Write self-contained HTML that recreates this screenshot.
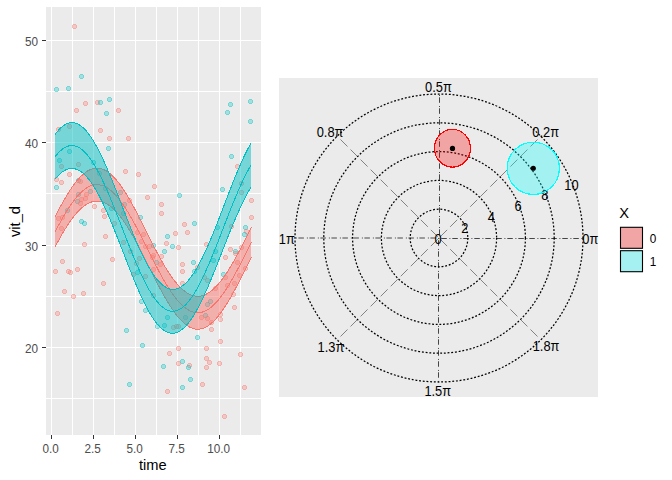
<!DOCTYPE html><html><head><meta charset="utf-8"><style>html,body{margin:0;padding:0;background:#fff;}svg{display:block;}text{font-family:"Liberation Sans",sans-serif;}</style></head><body>
<svg width="672" height="480" viewBox="0 0 672 480">
<rect width="672" height="480" fill="#fff"/>
<rect x="46" y="7" width="215" height="428" fill="#EBEBEB"/>
<rect x="51" y="7" width="1" height="428" fill="#fff"/>
<rect x="72" y="7" width="1" height="428" fill="#fff"/>
<rect x="93" y="7" width="1" height="428" fill="#fff"/>
<rect x="114" y="7" width="1" height="428" fill="#fff"/>
<rect x="135" y="7" width="1" height="428" fill="#fff"/>
<rect x="156" y="7" width="1" height="428" fill="#fff"/>
<rect x="177" y="7" width="1" height="428" fill="#fff"/>
<rect x="198" y="7" width="1" height="428" fill="#fff"/>
<rect x="219" y="7" width="1" height="428" fill="#fff"/>
<rect x="240" y="7" width="1" height="428" fill="#fff"/>
<rect x="46" y="40" width="215" height="1" fill="#fff"/>
<rect x="46" y="91" width="215" height="1" fill="#fff"/>
<rect x="46" y="142" width="215" height="1" fill="#fff"/>
<rect x="46" y="193" width="215" height="1" fill="#fff"/>
<rect x="46" y="245" width="215" height="1" fill="#fff"/>
<rect x="46" y="296" width="215" height="1" fill="#fff"/>
<rect x="46" y="347" width="215" height="1" fill="#fff"/>
<rect x="46" y="398" width="215" height="1" fill="#fff"/>
<g shape-rendering="crispEdges">
<path d="M73 24H76V25H77V28H76V29H73V28H72V25H73Z" fill="#F8766D" fill-opacity="0.3"/>
<path d="M73 24H76V25H77V28H76V29H73V28H72V25H73ZM73 25H76V28H73Z" fill="#F8766D" fill-opacity="0.3" fill-rule="evenodd"/>
<path d="M80 74H83V75H84V78H83V79H80V78H79V75H80Z" fill="#00BFC4" fill-opacity="0.3"/>
<path d="M80 74H83V75H84V78H83V79H80V78H79V75H80ZM80 75H83V78H80Z" fill="#00BFC4" fill-opacity="0.3" fill-rule="evenodd"/>
<path d="M55 87H58V88H59V91H58V92H55V91H54V88H55Z" fill="#00BFC4" fill-opacity="0.3"/>
<path d="M55 87H58V88H59V91H58V92H55V91H54V88H55ZM55 88H58V91H55Z" fill="#00BFC4" fill-opacity="0.3" fill-rule="evenodd"/>
<path d="M67 86H70V87H71V90H70V91H67V90H66V87H67Z" fill="#00BFC4" fill-opacity="0.3"/>
<path d="M67 86H70V87H71V90H70V91H67V90H66V87H67ZM67 87H70V90H67Z" fill="#00BFC4" fill-opacity="0.3" fill-rule="evenodd"/>
<path d="M84 101H87V102H88V105H87V106H84V105H83V102H84Z" fill="#F8766D" fill-opacity="0.3"/>
<path d="M84 101H87V102H88V105H87V106H84V105H83V102H84ZM84 102H87V105H84Z" fill="#F8766D" fill-opacity="0.3" fill-rule="evenodd"/>
<path d="M75 108H78V109H79V112H78V113H75V112H74V109H75Z" fill="#F8766D" fill-opacity="0.3"/>
<path d="M75 108H78V109H79V112H78V113H75V112H74V109H75ZM75 109H78V112H75Z" fill="#F8766D" fill-opacity="0.3" fill-rule="evenodd"/>
<path d="M96 100H99V101H100V104H99V105H96V104H95V101H96Z" fill="#F8766D" fill-opacity="0.3"/>
<path d="M96 100H99V101H100V104H99V105H96V104H95V101H96ZM96 101H99V104H96Z" fill="#F8766D" fill-opacity="0.3" fill-rule="evenodd"/>
<path d="M99 100H102V101H103V104H102V105H99V104H98V101H99Z" fill="#00BFC4" fill-opacity="0.3"/>
<path d="M99 100H102V101H103V104H102V105H99V104H98V101H99ZM99 101H102V104H99Z" fill="#00BFC4" fill-opacity="0.3" fill-rule="evenodd"/>
<path d="M108 97H111V98H112V101H111V102H108V101H107V98H108Z" fill="#00BFC4" fill-opacity="0.3"/>
<path d="M108 97H111V98H112V101H111V102H108V101H107V98H108ZM108 98H111V101H108Z" fill="#00BFC4" fill-opacity="0.3" fill-rule="evenodd"/>
<path d="M105 111H108V112H109V115H108V116H105V115H104V112H105Z" fill="#00BFC4" fill-opacity="0.3"/>
<path d="M105 111H108V112H109V115H108V116H105V115H104V112H105ZM105 112H108V115H105Z" fill="#00BFC4" fill-opacity="0.3" fill-rule="evenodd"/>
<path d="M117 108H120V109H121V112H120V113H117V112H116V109H117Z" fill="#F8766D" fill-opacity="0.3"/>
<path d="M117 108H120V109H121V112H120V113H117V112H116V109H117ZM117 109H120V112H117Z" fill="#F8766D" fill-opacity="0.3" fill-rule="evenodd"/>
<path d="M229 102H232V103H233V106H232V107H229V106H228V103H229Z" fill="#00BFC4" fill-opacity="0.3"/>
<path d="M229 102H232V103H233V106H232V107H229V106H228V103H229ZM229 103H232V106H229Z" fill="#00BFC4" fill-opacity="0.3" fill-rule="evenodd"/>
<path d="M226 110H229V111H230V114H229V115H226V114H225V111H226Z" fill="#00BFC4" fill-opacity="0.3"/>
<path d="M226 110H229V111H230V114H229V115H226V114H225V111H226ZM226 111H229V114H226Z" fill="#00BFC4" fill-opacity="0.3" fill-rule="evenodd"/>
<path d="M249 99H252V100H253V103H252V104H249V103H248V100H249Z" fill="#00BFC4" fill-opacity="0.3"/>
<path d="M249 99H252V100H253V103H252V104H249V103H248V100H249ZM249 100H252V103H249Z" fill="#00BFC4" fill-opacity="0.3" fill-rule="evenodd"/>
<path d="M249 119H252V120H253V123H252V124H249V123H248V120H249Z" fill="#00BFC4" fill-opacity="0.3"/>
<path d="M249 119H252V120H253V123H252V124H249V123H248V120H249ZM249 120H252V123H249Z" fill="#00BFC4" fill-opacity="0.3" fill-rule="evenodd"/>
<path d="M57 127H60V128H61V131H60V132H57V131H56V128H57Z" fill="#F8766D" fill-opacity="0.3"/>
<path d="M57 127H60V128H61V131H60V132H57V131H56V128H57ZM57 128H60V131H57Z" fill="#F8766D" fill-opacity="0.3" fill-rule="evenodd"/>
<path d="M68 124H71V125H72V128H71V129H68V128H67V125H68Z" fill="#F8766D" fill-opacity="0.3"/>
<path d="M68 124H71V125H72V128H71V129H68V128H67V125H68ZM68 125H71V128H68Z" fill="#F8766D" fill-opacity="0.3" fill-rule="evenodd"/>
<path d="M99 128H102V129H103V132H102V133H99V132H98V129H99Z" fill="#F8766D" fill-opacity="0.3"/>
<path d="M99 128H102V129H103V132H102V133H99V132H98V129H99ZM99 129H102V132H99Z" fill="#F8766D" fill-opacity="0.3" fill-rule="evenodd"/>
<path d="M68 149H71V150H72V153H71V154H68V153H67V150H68Z" fill="#00BFC4" fill-opacity="0.3"/>
<path d="M68 149H71V150H72V153H71V154H68V153H67V150H68ZM68 150H71V153H68Z" fill="#00BFC4" fill-opacity="0.3" fill-rule="evenodd"/>
<path d="M58 158H61V159H62V162H61V163H58V162H57V159H58Z" fill="#00BFC4" fill-opacity="0.3"/>
<path d="M58 158H61V159H62V162H61V163H58V162H57V159H58ZM58 159H61V162H58Z" fill="#00BFC4" fill-opacity="0.3" fill-rule="evenodd"/>
<path d="M60 164H63V165H64V168H63V169H60V168H59V165H60Z" fill="#F8766D" fill-opacity="0.3"/>
<path d="M60 164H63V165H64V168H63V169H60V168H59V165H60ZM60 165H63V168H60Z" fill="#F8766D" fill-opacity="0.3" fill-rule="evenodd"/>
<path d="M77 162H80V163H81V166H80V167H77V166H76V163H77Z" fill="#F8766D" fill-opacity="0.3"/>
<path d="M77 162H80V163H81V166H80V167H77V166H76V163H77ZM77 163H80V166H77Z" fill="#F8766D" fill-opacity="0.3" fill-rule="evenodd"/>
<path d="M92 160H95V161H96V164H95V165H92V164H91V161H92Z" fill="#00BFC4" fill-opacity="0.3"/>
<path d="M92 160H95V161H96V164H95V165H92V164H91V161H92ZM92 161H95V164H92Z" fill="#00BFC4" fill-opacity="0.3" fill-rule="evenodd"/>
<path d="M68 172H71V173H72V176H71V177H68V176H67V173H68Z" fill="#F8766D" fill-opacity="0.3"/>
<path d="M68 172H71V173H72V176H71V177H68V176H67V173H68ZM68 173H71V176H68Z" fill="#F8766D" fill-opacity="0.3" fill-rule="evenodd"/>
<path d="M98 171H101V172H102V175H101V176H98V175H97V172H98Z" fill="#00BFC4" fill-opacity="0.3"/>
<path d="M98 171H101V172H102V175H101V176H98V175H97V172H98ZM98 172H101V175H98Z" fill="#00BFC4" fill-opacity="0.3" fill-rule="evenodd"/>
<path d="M108 136H111V137H112V140H111V141H108V140H107V137H108Z" fill="#F8766D" fill-opacity="0.3"/>
<path d="M108 136H111V137H112V140H111V141H108V140H107V137H108ZM108 137H111V140H108Z" fill="#F8766D" fill-opacity="0.3" fill-rule="evenodd"/>
<path d="M127 136H130V137H131V140H130V141H127V140H126V137H127Z" fill="#F8766D" fill-opacity="0.3"/>
<path d="M127 136H130V137H131V140H130V141H127V140H126V137H127ZM127 137H130V140H127Z" fill="#F8766D" fill-opacity="0.3" fill-rule="evenodd"/>
<path d="M107 146H110V147H111V150H110V151H107V150H106V147H107Z" fill="#00BFC4" fill-opacity="0.3"/>
<path d="M107 146H110V147H111V150H110V151H107V150H106V147H107ZM107 147H110V150H107Z" fill="#00BFC4" fill-opacity="0.3" fill-rule="evenodd"/>
<path d="M124 169H127V170H128V173H127V174H124V173H123V170H124Z" fill="#F8766D" fill-opacity="0.3"/>
<path d="M124 169H127V170H128V173H127V174H124V173H123V170H124ZM124 170H127V173H124Z" fill="#F8766D" fill-opacity="0.3" fill-rule="evenodd"/>
<path d="M55 177H58V178H59V181H58V182H55V181H54V178H55Z" fill="#F8766D" fill-opacity="0.3"/>
<path d="M55 177H58V178H59V181H58V182H55V181H54V178H55ZM55 178H58V181H55Z" fill="#F8766D" fill-opacity="0.3" fill-rule="evenodd"/>
<path d="M60 180H63V181H64V184H63V185H60V184H59V181H60Z" fill="#F8766D" fill-opacity="0.3"/>
<path d="M60 180H63V181H64V184H63V185H60V184H59V181H60ZM60 181H63V184H60Z" fill="#F8766D" fill-opacity="0.3" fill-rule="evenodd"/>
<path d="M55 185H58V186H59V189H58V190H55V189H54V186H55Z" fill="#00BFC4" fill-opacity="0.3"/>
<path d="M55 185H58V186H59V189H58V190H55V189H54V186H55ZM55 186H58V189H55Z" fill="#00BFC4" fill-opacity="0.3" fill-rule="evenodd"/>
<path d="M77 178H80V179H81V182H80V183H77V182H76V179H77Z" fill="#00BFC4" fill-opacity="0.3"/>
<path d="M77 178H80V179H81V182H80V183H77V182H76V179H77ZM77 179H80V182H77Z" fill="#00BFC4" fill-opacity="0.3" fill-rule="evenodd"/>
<path d="M79 179H82V180H83V183H82V184H79V183H78V180H79Z" fill="#F8766D" fill-opacity="0.3"/>
<path d="M79 179H82V180H83V183H82V184H79V183H78V180H79ZM79 180H82V183H79Z" fill="#F8766D" fill-opacity="0.3" fill-rule="evenodd"/>
<path d="M89 189H92V190H93V193H92V194H89V193H88V190H89Z" fill="#00BFC4" fill-opacity="0.3"/>
<path d="M89 189H92V190H93V193H92V194H89V193H88V190H89ZM89 190H92V193H89Z" fill="#00BFC4" fill-opacity="0.3" fill-rule="evenodd"/>
<path d="M77 192H80V193H81V196H80V197H77V196H76V193H77Z" fill="#00BFC4" fill-opacity="0.3"/>
<path d="M77 192H80V193H81V196H80V197H77V196H76V193H77ZM77 193H80V196H77Z" fill="#00BFC4" fill-opacity="0.3" fill-rule="evenodd"/>
<path d="M85 192H88V193H89V196H88V197H85V196H84V193H85Z" fill="#F8766D" fill-opacity="0.3"/>
<path d="M85 192H88V193H89V196H88V197H85V196H84V193H85ZM85 193H88V196H85Z" fill="#F8766D" fill-opacity="0.3" fill-rule="evenodd"/>
<path d="M84 196H87V197H88V200H87V201H84V200H83V197H84Z" fill="#F8766D" fill-opacity="0.3"/>
<path d="M84 196H87V197H88V200H87V201H84V200H83V197H84ZM84 197H87V200H84Z" fill="#F8766D" fill-opacity="0.3" fill-rule="evenodd"/>
<path d="M80 197H83V198H84V201H83V202H80V201H79V198H80Z" fill="#F8766D" fill-opacity="0.3"/>
<path d="M80 197H83V198H84V201H83V202H80V201H79V198H80ZM80 198H83V201H80Z" fill="#F8766D" fill-opacity="0.3" fill-rule="evenodd"/>
<path d="M76 199H79V200H80V203H79V204H76V203H75V200H76Z" fill="#00BFC4" fill-opacity="0.3"/>
<path d="M76 199H79V200H80V203H79V204H76V203H75V200H76ZM76 200H79V203H76Z" fill="#00BFC4" fill-opacity="0.3" fill-rule="evenodd"/>
<path d="M79 201H82V202H83V205H82V206H79V205H78V202H79Z" fill="#F8766D" fill-opacity="0.3"/>
<path d="M79 201H82V202H83V205H82V206H79V205H78V202H79ZM79 202H82V205H79Z" fill="#F8766D" fill-opacity="0.3" fill-rule="evenodd"/>
<path d="M93 204H96V205H97V208H96V209H93V208H92V205H93Z" fill="#F8766D" fill-opacity="0.3"/>
<path d="M93 204H96V205H97V208H96V209H93V208H92V205H93ZM93 205H96V208H93Z" fill="#F8766D" fill-opacity="0.3" fill-rule="evenodd"/>
<path d="M102 208H105V209H106V212H105V213H102V212H101V209H102Z" fill="#F8766D" fill-opacity="0.3"/>
<path d="M102 208H105V209H106V212H105V213H102V212H101V209H102ZM102 209H105V212H102Z" fill="#F8766D" fill-opacity="0.3" fill-rule="evenodd"/>
<path d="M103 214H106V215H107V218H106V219H103V218H102V215H103Z" fill="#F8766D" fill-opacity="0.3"/>
<path d="M103 214H106V215H107V218H106V219H103V218H102V215H103ZM103 215H106V218H103Z" fill="#F8766D" fill-opacity="0.3" fill-rule="evenodd"/>
<path d="M66 208H69V209H70V212H69V213H66V212H65V209H66Z" fill="#00BFC4" fill-opacity="0.3"/>
<path d="M66 208H69V209H70V212H69V213H66V212H65V209H66ZM66 209H69V212H66Z" fill="#00BFC4" fill-opacity="0.3" fill-rule="evenodd"/>
<path d="M137 172H140V173H141V176H140V177H137V176H136V173H137Z" fill="#F8766D" fill-opacity="0.3"/>
<path d="M137 172H140V173H141V176H140V177H137V176H136V173H137ZM137 173H140V176H137Z" fill="#F8766D" fill-opacity="0.3" fill-rule="evenodd"/>
<path d="M153 184H156V185H157V188H156V189H153V188H152V185H153Z" fill="#F8766D" fill-opacity="0.3"/>
<path d="M153 184H156V185H157V188H156V189H153V188H152V185H153ZM153 185H156V188H153Z" fill="#F8766D" fill-opacity="0.3" fill-rule="evenodd"/>
<path d="M119 190H122V191H123V194H122V195H119V194H118V191H119Z" fill="#00BFC4" fill-opacity="0.3"/>
<path d="M119 190H122V191H123V194H122V195H119V194H118V191H119ZM119 191H122V194H119Z" fill="#00BFC4" fill-opacity="0.3" fill-rule="evenodd"/>
<path d="M146 195H149V196H150V199H149V200H146V199H145V196H146Z" fill="#F8766D" fill-opacity="0.3"/>
<path d="M146 195H149V196H150V199H149V200H146V199H145V196H146ZM146 196H149V199H146Z" fill="#F8766D" fill-opacity="0.3" fill-rule="evenodd"/>
<path d="M128 198H131V199H132V202H131V203H128V202H127V199H128Z" fill="#F8766D" fill-opacity="0.3"/>
<path d="M128 198H131V199H132V202H131V203H128V202H127V199H128ZM128 199H131V202H128Z" fill="#F8766D" fill-opacity="0.3" fill-rule="evenodd"/>
<path d="M123 202H126V203H127V206H126V207H123V206H122V203H123Z" fill="#00BFC4" fill-opacity="0.3"/>
<path d="M123 202H126V203H127V206H126V207H123V206H122V203H123ZM123 203H126V206H123Z" fill="#00BFC4" fill-opacity="0.3" fill-rule="evenodd"/>
<path d="M104 186H107V187H108V190H107V191H104V190H103V187H104Z" fill="#00BFC4" fill-opacity="0.3"/>
<path d="M104 186H107V187H108V190H107V191H104V190H103V187H104ZM104 187H107V190H104Z" fill="#00BFC4" fill-opacity="0.3" fill-rule="evenodd"/>
<path d="M110 206H113V207H114V210H113V211H110V210H109V207H110Z" fill="#00BFC4" fill-opacity="0.3"/>
<path d="M110 206H113V207H114V210H113V211H110V210H109V207H110ZM110 207H113V210H110Z" fill="#00BFC4" fill-opacity="0.3" fill-rule="evenodd"/>
<path d="M122 211H125V212H126V215H125V216H122V215H121V212H122Z" fill="#00BFC4" fill-opacity="0.3"/>
<path d="M122 211H125V212H126V215H125V216H122V215H121V212H122ZM122 212H125V215H122Z" fill="#00BFC4" fill-opacity="0.3" fill-rule="evenodd"/>
<path d="M139 215H142V216H143V219H142V220H139V219H138V216H139Z" fill="#00BFC4" fill-opacity="0.3"/>
<path d="M139 215H142V216H143V219H142V220H139V219H138V216H139ZM139 216H142V219H139Z" fill="#00BFC4" fill-opacity="0.3" fill-rule="evenodd"/>
<path d="M178 193H181V194H182V197H181V198H178V197H177V194H178Z" fill="#00BFC4" fill-opacity="0.3"/>
<path d="M178 193H181V194H182V197H181V198H178V197H177V194H178ZM178 194H181V197H178Z" fill="#00BFC4" fill-opacity="0.3" fill-rule="evenodd"/>
<path d="M160 202H163V203H164V206H163V207H160V206H159V203H160Z" fill="#F8766D" fill-opacity="0.3"/>
<path d="M160 202H163V203H164V206H163V207H160V206H159V203H160ZM160 203H163V206H160Z" fill="#F8766D" fill-opacity="0.3" fill-rule="evenodd"/>
<path d="M160 211H163V212H164V215H163V216H160V215H159V212H160Z" fill="#F8766D" fill-opacity="0.3"/>
<path d="M160 211H163V212H164V215H163V216H160V215H159V212H160ZM160 212H163V215H160Z" fill="#F8766D" fill-opacity="0.3" fill-rule="evenodd"/>
<path d="M230 154H233V155H234V158H233V159H230V158H229V155H230Z" fill="#00BFC4" fill-opacity="0.3"/>
<path d="M230 154H233V155H234V158H233V159H230V158H229V155H230ZM230 155H233V158H230Z" fill="#00BFC4" fill-opacity="0.3" fill-rule="evenodd"/>
<path d="M236 164H239V165H240V168H239V169H236V168H235V165H236Z" fill="#F8766D" fill-opacity="0.3"/>
<path d="M236 164H239V165H240V168H239V169H236V168H235V165H236ZM236 165H239V168H236Z" fill="#F8766D" fill-opacity="0.3" fill-rule="evenodd"/>
<path d="M221 187H224V188H225V191H224V192H221V191H220V188H221Z" fill="#00BFC4" fill-opacity="0.3"/>
<path d="M221 187H224V188H225V191H224V192H221V191H220V188H221ZM221 188H224V191H221Z" fill="#00BFC4" fill-opacity="0.3" fill-rule="evenodd"/>
<path d="M240 181H243V182H244V185H243V186H240V185H239V182H240Z" fill="#F8766D" fill-opacity="0.3"/>
<path d="M240 181H243V182H244V185H243V186H240V185H239V182H240ZM240 182H243V185H240Z" fill="#F8766D" fill-opacity="0.3" fill-rule="evenodd"/>
<path d="M240 190H243V191H244V194H243V195H240V194H239V191H240Z" fill="#F8766D" fill-opacity="0.3"/>
<path d="M240 190H243V191H244V194H243V195H240V194H239V191H240ZM240 191H243V194H240Z" fill="#F8766D" fill-opacity="0.3" fill-rule="evenodd"/>
<path d="M250 198H253V199H254V202H253V203H250V202H249V199H250Z" fill="#F8766D" fill-opacity="0.3"/>
<path d="M250 198H253V199H254V202H253V203H250V202H249V199H250ZM250 199H253V202H250Z" fill="#F8766D" fill-opacity="0.3" fill-rule="evenodd"/>
<path d="M250 215H253V216H254V219H253V220H250V219H249V216H250Z" fill="#F8766D" fill-opacity="0.3"/>
<path d="M250 215H253V216H254V219H253V220H250V219H249V216H250ZM250 216H253V219H250Z" fill="#F8766D" fill-opacity="0.3" fill-rule="evenodd"/>
<path d="M57 216H60V217H61V220H60V221H57V220H56V217H57Z" fill="#F8766D" fill-opacity="0.3"/>
<path d="M57 216H60V217H61V220H60V221H57V220H56V217H57ZM57 217H60V220H57Z" fill="#F8766D" fill-opacity="0.3" fill-rule="evenodd"/>
<path d="M61 215H64V216H65V219H64V220H61V219H60V216H61Z" fill="#F8766D" fill-opacity="0.3"/>
<path d="M61 215H64V216H65V219H64V220H61V219H60V216H61ZM61 216H64V219H61Z" fill="#F8766D" fill-opacity="0.3" fill-rule="evenodd"/>
<path d="M60 226H63V227H64V230H63V231H60V230H59V227H60Z" fill="#F8766D" fill-opacity="0.3"/>
<path d="M60 226H63V227H64V230H63V231H60V230H59V227H60ZM60 227H63V230H60Z" fill="#F8766D" fill-opacity="0.3" fill-rule="evenodd"/>
<path d="M80 219H83V220H84V223H83V224H80V223H79V220H80Z" fill="#00BFC4" fill-opacity="0.3"/>
<path d="M80 219H83V220H84V223H83V224H80V223H79V220H80ZM80 220H83V223H80Z" fill="#00BFC4" fill-opacity="0.3" fill-rule="evenodd"/>
<path d="M83 221H86V222H87V225H86V226H83V225H82V222H83Z" fill="#00BFC4" fill-opacity="0.3"/>
<path d="M83 221H86V222H87V225H86V226H83V225H82V222H83ZM83 222H86V225H83Z" fill="#00BFC4" fill-opacity="0.3" fill-rule="evenodd"/>
<path d="M83 242H86V243H87V246H86V247H83V246H82V243H83Z" fill="#F8766D" fill-opacity="0.3"/>
<path d="M83 242H86V243H87V246H86V247H83V246H82V243H83ZM83 243H86V246H83Z" fill="#F8766D" fill-opacity="0.3" fill-rule="evenodd"/>
<path d="M61 259H64V260H65V263H64V264H61V263H60V260H61Z" fill="#F8766D" fill-opacity="0.3"/>
<path d="M61 259H64V260H65V263H64V264H61V263H60V260H61ZM61 260H64V263H61Z" fill="#F8766D" fill-opacity="0.3" fill-rule="evenodd"/>
<path d="M104 234H107V235H108V238H107V239H104V238H103V235H104Z" fill="#F8766D" fill-opacity="0.3"/>
<path d="M104 234H107V235H108V238H107V239H104V238H103V235H104ZM104 235H107V238H104Z" fill="#F8766D" fill-opacity="0.3" fill-rule="evenodd"/>
<path d="M111 257H114V258H115V261H114V262H111V261H110V258H111Z" fill="#F8766D" fill-opacity="0.3"/>
<path d="M111 257H114V258H115V261H114V262H111V261H110V258H111ZM111 258H114V261H111Z" fill="#F8766D" fill-opacity="0.3" fill-rule="evenodd"/>
<path d="M113 221H116V222H117V225H116V226H113V225H112V222H113Z" fill="#F8766D" fill-opacity="0.3"/>
<path d="M113 221H116V222H117V225H116V226H113V225H112V222H113ZM113 222H116V225H113Z" fill="#F8766D" fill-opacity="0.3" fill-rule="evenodd"/>
<path d="M122 240H125V241H126V244H125V245H122V244H121V241H122Z" fill="#F8766D" fill-opacity="0.3"/>
<path d="M122 240H125V241H126V244H125V245H122V244H121V241H122ZM122 241H125V244H122Z" fill="#F8766D" fill-opacity="0.3" fill-rule="evenodd"/>
<path d="M129 249H132V250H133V253H132V254H129V253H128V250H129Z" fill="#F8766D" fill-opacity="0.3"/>
<path d="M129 249H132V250H133V253H132V254H129V253H128V250H129ZM129 250H132V253H129Z" fill="#F8766D" fill-opacity="0.3" fill-rule="evenodd"/>
<path d="M138 256H141V257H142V260H141V261H138V260H137V257H138Z" fill="#F8766D" fill-opacity="0.3"/>
<path d="M138 256H141V257H142V260H141V261H138V260H137V257H138ZM138 257H141V260H138Z" fill="#F8766D" fill-opacity="0.3" fill-rule="evenodd"/>
<path d="M135 261H138V262H139V265H138V266H135V265H134V262H135Z" fill="#F8766D" fill-opacity="0.3"/>
<path d="M135 261H138V262H139V265H138V266H135V265H134V262H135ZM135 262H138V265H135Z" fill="#F8766D" fill-opacity="0.3" fill-rule="evenodd"/>
<path d="M136 230H139V231H140V234H139V235H136V234H135V231H136Z" fill="#F8766D" fill-opacity="0.3"/>
<path d="M136 230H139V231H140V234H139V235H136V234H135V231H136ZM136 231H139V234H136Z" fill="#F8766D" fill-opacity="0.3" fill-rule="evenodd"/>
<path d="M142 232H145V233H146V236H145V237H142V236H141V233H142Z" fill="#F8766D" fill-opacity="0.3"/>
<path d="M142 232H145V233H146V236H145V237H142V236H141V233H142ZM142 233H145V236H142Z" fill="#F8766D" fill-opacity="0.3" fill-rule="evenodd"/>
<path d="M140 239H143V240H144V243H143V244H140V243H139V240H140Z" fill="#F8766D" fill-opacity="0.3"/>
<path d="M140 239H143V240H144V243H143V244H140V243H139V240H140ZM140 240H143V243H140Z" fill="#F8766D" fill-opacity="0.3" fill-rule="evenodd"/>
<path d="M144 244H147V245H148V248H147V249H144V248H143V245H144Z" fill="#F8766D" fill-opacity="0.3"/>
<path d="M144 244H147V245H148V248H147V249H144V248H143V245H144ZM144 245H147V248H144Z" fill="#F8766D" fill-opacity="0.3" fill-rule="evenodd"/>
<path d="M148 244H151V245H152V248H151V249H148V248H147V245H148Z" fill="#F8766D" fill-opacity="0.3"/>
<path d="M148 244H151V245H152V248H151V249H148V248H147V245H148ZM148 245H151V248H148Z" fill="#F8766D" fill-opacity="0.3" fill-rule="evenodd"/>
<path d="M152 243H155V244H156V247H155V248H152V247H151V244H152Z" fill="#00BFC4" fill-opacity="0.3"/>
<path d="M152 243H155V244H156V247H155V248H152V247H151V244H152ZM152 244H155V247H152Z" fill="#00BFC4" fill-opacity="0.3" fill-rule="evenodd"/>
<path d="M152 253H155V254H156V257H155V258H152V257H151V254H152Z" fill="#F8766D" fill-opacity="0.3"/>
<path d="M152 253H155V254H156V257H155V258H152V257H151V254H152ZM152 254H155V257H152Z" fill="#F8766D" fill-opacity="0.3" fill-rule="evenodd"/>
<path d="M151 255H154V256H155V259H154V260H151V259H150V256H151Z" fill="#F8766D" fill-opacity="0.3"/>
<path d="M151 255H154V256H155V259H154V260H151V259H150V256H151ZM151 256H154V259H151Z" fill="#F8766D" fill-opacity="0.3" fill-rule="evenodd"/>
<path d="M160 254H163V255H164V258H163V259H160V258H159V255H160Z" fill="#F8766D" fill-opacity="0.3"/>
<path d="M160 254H163V255H164V258H163V259H160V258H159V255H160ZM160 255H163V258H160Z" fill="#F8766D" fill-opacity="0.3" fill-rule="evenodd"/>
<path d="M155 260H158V261H159V264H158V265H155V264H154V261H155Z" fill="#00BFC4" fill-opacity="0.3"/>
<path d="M155 260H158V261H159V264H158V265H155V264H154V261H155ZM155 261H158V264H155Z" fill="#00BFC4" fill-opacity="0.3" fill-rule="evenodd"/>
<path d="M183 222H186V223H187V226H186V227H183V226H182V223H183Z" fill="#F8766D" fill-opacity="0.3"/>
<path d="M183 222H186V223H187V226H186V227H183V226H182V223H183ZM183 223H186V226H183Z" fill="#F8766D" fill-opacity="0.3" fill-rule="evenodd"/>
<path d="M193 221H196V222H197V225H196V226H193V225H192V222H193Z" fill="#00BFC4" fill-opacity="0.3"/>
<path d="M193 221H196V222H197V225H196V226H193V225H192V222H193ZM193 222H196V225H193Z" fill="#00BFC4" fill-opacity="0.3" fill-rule="evenodd"/>
<path d="M186 230H189V231H190V234H189V235H186V234H185V231H186Z" fill="#F8766D" fill-opacity="0.3"/>
<path d="M186 230H189V231H190V234H189V235H186V234H185V231H186ZM186 231H189V234H186Z" fill="#F8766D" fill-opacity="0.3" fill-rule="evenodd"/>
<path d="M174 231H177V232H178V235H177V236H174V235H173V232H174Z" fill="#F8766D" fill-opacity="0.3"/>
<path d="M174 231H177V232H178V235H177V236H174V235H173V232H174ZM174 232H177V235H174Z" fill="#F8766D" fill-opacity="0.3" fill-rule="evenodd"/>
<path d="M166 234H169V235H170V238H169V239H166V238H165V235H166Z" fill="#00BFC4" fill-opacity="0.3"/>
<path d="M166 234H169V235H170V238H169V239H166V238H165V235H166ZM166 235H169V238H166Z" fill="#00BFC4" fill-opacity="0.3" fill-rule="evenodd"/>
<path d="M165 241H168V242H169V245H168V246H165V245H164V242H165Z" fill="#F8766D" fill-opacity="0.3"/>
<path d="M165 241H168V242H169V245H168V246H165V245H164V242H165ZM165 242H168V245H165Z" fill="#F8766D" fill-opacity="0.3" fill-rule="evenodd"/>
<path d="M171 244H174V245H175V248H174V249H171V248H170V245H171Z" fill="#00BFC4" fill-opacity="0.3"/>
<path d="M171 244H174V245H175V248H174V249H171V248H170V245H171ZM171 245H174V248H171Z" fill="#00BFC4" fill-opacity="0.3" fill-rule="evenodd"/>
<path d="M177 245H180V246H181V249H180V250H177V249H176V246H177Z" fill="#F8766D" fill-opacity="0.3"/>
<path d="M177 245H180V246H181V249H180V250H177V249H176V246H177ZM177 246H180V249H177Z" fill="#F8766D" fill-opacity="0.3" fill-rule="evenodd"/>
<path d="M163 249H166V250H167V253H166V254H163V253H162V250H163Z" fill="#00BFC4" fill-opacity="0.3"/>
<path d="M163 249H166V250H167V253H166V254H163V253H162V250H163ZM163 250H166V253H163Z" fill="#00BFC4" fill-opacity="0.3" fill-rule="evenodd"/>
<path d="M205 242H208V243H209V246H208V247H205V246H204V243H205Z" fill="#F8766D" fill-opacity="0.3"/>
<path d="M205 242H208V243H209V246H208V247H205V246H204V243H205ZM205 243H208V246H205Z" fill="#F8766D" fill-opacity="0.3" fill-rule="evenodd"/>
<path d="M216 225H219V226H220V229H219V230H216V229H215V226H216Z" fill="#00BFC4" fill-opacity="0.3"/>
<path d="M216 225H219V226H220V229H219V230H216V229H215V226H216ZM216 226H219V229H216Z" fill="#00BFC4" fill-opacity="0.3" fill-rule="evenodd"/>
<path d="M214 249H217V250H218V253H217V254H214V253H213V250H214Z" fill="#00BFC4" fill-opacity="0.3"/>
<path d="M214 249H217V250H218V253H217V254H214V253H213V250H214ZM214 250H217V253H214Z" fill="#00BFC4" fill-opacity="0.3" fill-rule="evenodd"/>
<path d="M212 258H215V259H216V262H215V263H212V262H211V259H212Z" fill="#00BFC4" fill-opacity="0.3"/>
<path d="M212 258H215V259H216V262H215V263H212V262H211V259H212ZM212 259H215V262H212Z" fill="#00BFC4" fill-opacity="0.3" fill-rule="evenodd"/>
<path d="M192 260H195V261H196V264H195V265H192V264H191V261H192Z" fill="#00BFC4" fill-opacity="0.3"/>
<path d="M192 260H195V261H196V264H195V265H192V264H191V261H192ZM192 261H195V264H192Z" fill="#00BFC4" fill-opacity="0.3" fill-rule="evenodd"/>
<path d="M181 262H184V263H185V266H184V267H181V266H180V263H181Z" fill="#F8766D" fill-opacity="0.3"/>
<path d="M181 262H184V263H185V266H184V267H181V266H180V263H181ZM181 263H184V266H181Z" fill="#F8766D" fill-opacity="0.3" fill-rule="evenodd"/>
<path d="M230 224H233V225H234V228H233V229H230V228H229V225H230Z" fill="#F8766D" fill-opacity="0.3"/>
<path d="M230 224H233V225H234V228H233V229H230V228H229V225H230ZM230 225H233V228H230Z" fill="#F8766D" fill-opacity="0.3" fill-rule="evenodd"/>
<path d="M244 225H247V226H248V229H247V230H244V229H243V226H244Z" fill="#00BFC4" fill-opacity="0.3"/>
<path d="M244 225H247V226H248V229H247V230H244V229H243V226H244ZM244 226H247V229H244Z" fill="#00BFC4" fill-opacity="0.3" fill-rule="evenodd"/>
<path d="M245 229H248V230H249V233H248V234H245V233H244V230H245Z" fill="#F8766D" fill-opacity="0.3"/>
<path d="M245 229H248V230H249V233H248V234H245V233H244V230H245ZM245 230H248V233H245Z" fill="#F8766D" fill-opacity="0.3" fill-rule="evenodd"/>
<path d="M243 232H246V233H247V236H246V237H243V236H242V233H243Z" fill="#00BFC4" fill-opacity="0.3"/>
<path d="M243 232H246V233H247V236H246V237H243V236H242V233H243ZM243 233H246V236H243Z" fill="#00BFC4" fill-opacity="0.3" fill-rule="evenodd"/>
<path d="M240 245H243V246H244V249H243V250H240V249H239V246H240Z" fill="#F8766D" fill-opacity="0.3"/>
<path d="M240 245H243V246H244V249H243V250H240V249H239V246H240ZM240 246H243V249H240Z" fill="#F8766D" fill-opacity="0.3" fill-rule="evenodd"/>
<path d="M229 247H232V248H233V251H232V252H229V251H228V248H229Z" fill="#F8766D" fill-opacity="0.3"/>
<path d="M229 247H232V248H233V251H232V252H229V251H228V248H229ZM229 248H232V251H229Z" fill="#F8766D" fill-opacity="0.3" fill-rule="evenodd"/>
<path d="M234 249H237V250H238V253H237V254H234V253H233V250H234Z" fill="#00BFC4" fill-opacity="0.3"/>
<path d="M234 249H237V250H238V253H237V254H234V253H233V250H234ZM234 250H237V253H234Z" fill="#00BFC4" fill-opacity="0.3" fill-rule="evenodd"/>
<path d="M234 251H237V252H238V255H237V256H234V255H233V252H234Z" fill="#F8766D" fill-opacity="0.3"/>
<path d="M234 251H237V252H238V255H237V256H234V255H233V252H234ZM234 252H237V255H234Z" fill="#F8766D" fill-opacity="0.3" fill-rule="evenodd"/>
<path d="M224 255H227V256H228V259H227V260H224V259H223V256H224Z" fill="#F8766D" fill-opacity="0.3"/>
<path d="M224 255H227V256H228V259H227V260H224V259H223V256H224ZM224 256H227V259H224Z" fill="#F8766D" fill-opacity="0.3" fill-rule="evenodd"/>
<path d="M236 260H239V261H240V264H239V265H236V264H235V261H236Z" fill="#F8766D" fill-opacity="0.3"/>
<path d="M236 260H239V261H240V264H239V265H236V264H235V261H236ZM236 261H239V264H236Z" fill="#F8766D" fill-opacity="0.3" fill-rule="evenodd"/>
<path d="M54 269H57V270H58V273H57V274H54V273H53V270H54Z" fill="#F8766D" fill-opacity="0.3"/>
<path d="M54 269H57V270H58V273H57V274H54V273H53V270H54ZM54 270H57V273H54Z" fill="#F8766D" fill-opacity="0.3" fill-rule="evenodd"/>
<path d="M67 269H70V270H71V273H70V274H67V273H66V270H67Z" fill="#F8766D" fill-opacity="0.3"/>
<path d="M67 269H70V270H71V273H70V274H67V273H66V270H67ZM67 270H70V273H67Z" fill="#F8766D" fill-opacity="0.3" fill-rule="evenodd"/>
<path d="M69 270H72V271H73V274H72V275H69V274H68V271H69Z" fill="#F8766D" fill-opacity="0.3"/>
<path d="M69 270H72V271H73V274H72V275H69V274H68V271H69ZM69 271H72V274H69Z" fill="#F8766D" fill-opacity="0.3" fill-rule="evenodd"/>
<path d="M76 267H79V268H80V271H79V272H76V271H75V268H76Z" fill="#F8766D" fill-opacity="0.3"/>
<path d="M76 267H79V268H80V271H79V272H76V271H75V268H76ZM76 268H79V271H76Z" fill="#F8766D" fill-opacity="0.3" fill-rule="evenodd"/>
<path d="M102 281H105V282H106V285H105V286H102V285H101V282H102Z" fill="#F8766D" fill-opacity="0.3"/>
<path d="M102 281H105V282H106V285H105V286H102V285H101V282H102ZM102 282H105V285H102Z" fill="#F8766D" fill-opacity="0.3" fill-rule="evenodd"/>
<path d="M63 289H66V290H67V293H66V294H63V293H62V290H63Z" fill="#F8766D" fill-opacity="0.3"/>
<path d="M63 289H66V290H67V293H66V294H63V293H62V290H63ZM63 290H66V293H63Z" fill="#F8766D" fill-opacity="0.3" fill-rule="evenodd"/>
<path d="M72 294H75V295H76V298H75V299H72V298H71V295H72Z" fill="#F8766D" fill-opacity="0.3"/>
<path d="M72 294H75V295H76V298H75V299H72V298H71V295H72ZM72 295H75V298H72Z" fill="#F8766D" fill-opacity="0.3" fill-rule="evenodd"/>
<path d="M82 291H85V292H86V295H85V296H82V295H81V292H82Z" fill="#F8766D" fill-opacity="0.3"/>
<path d="M82 291H85V292H86V295H85V296H82V295H81V292H82ZM82 292H85V295H82Z" fill="#F8766D" fill-opacity="0.3" fill-rule="evenodd"/>
<path d="M132 272H135V273H136V276H135V277H132V276H131V273H132Z" fill="#F8766D" fill-opacity="0.3"/>
<path d="M132 272H135V273H136V276H135V277H132V276H131V273H132ZM132 273H135V276H132Z" fill="#F8766D" fill-opacity="0.3" fill-rule="evenodd"/>
<path d="M136 270H139V271H140V274H139V275H136V274H135V271H136Z" fill="#00BFC4" fill-opacity="0.3"/>
<path d="M136 270H139V271H140V274H139V275H136V274H135V271H136ZM136 271H139V274H136Z" fill="#00BFC4" fill-opacity="0.3" fill-rule="evenodd"/>
<path d="M144 274H147V275H148V278H147V279H144V278H143V275H144Z" fill="#F8766D" fill-opacity="0.3"/>
<path d="M144 274H147V275H148V278H147V279H144V278H143V275H144ZM144 275H147V278H144Z" fill="#F8766D" fill-opacity="0.3" fill-rule="evenodd"/>
<path d="M152 293H155V294H156V297H155V298H152V297H151V294H152Z" fill="#F8766D" fill-opacity="0.3"/>
<path d="M152 293H155V294H156V297H155V298H152V297H151V294H152ZM152 294H155V297H152Z" fill="#F8766D" fill-opacity="0.3" fill-rule="evenodd"/>
<path d="M140 299H143V300H144V303H143V304H140V303H139V300H140Z" fill="#00BFC4" fill-opacity="0.3"/>
<path d="M140 299H143V300H144V303H143V304H140V303H139V300H140ZM140 300H143V303H140Z" fill="#00BFC4" fill-opacity="0.3" fill-rule="evenodd"/>
<path d="M152 267H155V268H156V271H155V272H152V271H151V268H152Z" fill="#F8766D" fill-opacity="0.3"/>
<path d="M152 267H155V268H156V271H155V272H152V271H151V268H152ZM152 268H155V271H152Z" fill="#F8766D" fill-opacity="0.3" fill-rule="evenodd"/>
<path d="M159 262H162V263H163V266H162V267H159V266H158V263H159Z" fill="#F8766D" fill-opacity="0.3"/>
<path d="M159 262H162V263H163V266H162V267H159V266H158V263H159ZM159 263H162V266H159Z" fill="#F8766D" fill-opacity="0.3" fill-rule="evenodd"/>
<path d="M181 269H184V270H185V273H184V274H181V273H180V270H181Z" fill="#F8766D" fill-opacity="0.3"/>
<path d="M181 269H184V270H185V273H184V274H181V273H180V270H181ZM181 270H184V273H181Z" fill="#F8766D" fill-opacity="0.3" fill-rule="evenodd"/>
<path d="M193 269H196V270H197V273H196V274H193V273H192V270H193Z" fill="#00BFC4" fill-opacity="0.3"/>
<path d="M193 269H196V270H197V273H196V274H193V273H192V270H193ZM193 270H196V273H193Z" fill="#00BFC4" fill-opacity="0.3" fill-rule="evenodd"/>
<path d="M196 265H199V266H200V269H199V270H196V269H195V266H196Z" fill="#F8766D" fill-opacity="0.3"/>
<path d="M196 265H199V266H200V269H199V270H196V269H195V266H196ZM196 266H199V269H196Z" fill="#F8766D" fill-opacity="0.3" fill-rule="evenodd"/>
<path d="M181 281H184V282H185V285H184V286H181V285H180V282H181Z" fill="#F8766D" fill-opacity="0.3"/>
<path d="M181 281H184V282H185V285H184V286H181V285H180V282H181ZM181 282H184V285H181Z" fill="#F8766D" fill-opacity="0.3" fill-rule="evenodd"/>
<path d="M203 275H206V276H207V279H206V280H203V279H202V276H203Z" fill="#F8766D" fill-opacity="0.3"/>
<path d="M203 275H206V276H207V279H206V280H203V279H202V276H203ZM203 276H206V279H203Z" fill="#F8766D" fill-opacity="0.3" fill-rule="evenodd"/>
<path d="M206 278H209V279H210V282H209V283H206V282H205V279H206Z" fill="#F8766D" fill-opacity="0.3"/>
<path d="M206 278H209V279H210V282H209V283H206V282H205V279H206ZM206 279H209V282H206Z" fill="#F8766D" fill-opacity="0.3" fill-rule="evenodd"/>
<path d="M222 272H225V273H226V276H225V277H222V276H221V273H222Z" fill="#00BFC4" fill-opacity="0.3"/>
<path d="M222 272H225V273H226V276H225V277H222V276H221V273H222ZM222 273H225V276H222Z" fill="#00BFC4" fill-opacity="0.3" fill-rule="evenodd"/>
<path d="M224 275H227V276H228V279H227V280H224V279H223V276H224Z" fill="#F8766D" fill-opacity="0.3"/>
<path d="M224 275H227V276H228V279H227V280H224V279H223V276H224ZM224 276H227V279H224Z" fill="#F8766D" fill-opacity="0.3" fill-rule="evenodd"/>
<path d="M214 286H217V287H218V290H217V291H214V290H213V287H214Z" fill="#F8766D" fill-opacity="0.3"/>
<path d="M214 286H217V287H218V290H217V291H214V290H213V287H214ZM214 287H217V290H214Z" fill="#F8766D" fill-opacity="0.3" fill-rule="evenodd"/>
<path d="M226 283H229V284H230V287H229V288H226V287H225V284H226Z" fill="#F8766D" fill-opacity="0.3"/>
<path d="M226 283H229V284H230V287H229V288H226V287H225V284H226ZM226 284H229V287H226Z" fill="#F8766D" fill-opacity="0.3" fill-rule="evenodd"/>
<path d="M233 281H236V282H237V285H236V286H233V285H232V282H233Z" fill="#F8766D" fill-opacity="0.3"/>
<path d="M233 281H236V282H237V285H236V286H233V285H232V282H233ZM233 282H236V285H233Z" fill="#F8766D" fill-opacity="0.3" fill-rule="evenodd"/>
<path d="M232 292H235V293H236V296H235V297H232V296H231V293H232Z" fill="#F8766D" fill-opacity="0.3"/>
<path d="M232 292H235V293H236V296H235V297H232V296H231V293H232ZM232 293H235V296H232Z" fill="#F8766D" fill-opacity="0.3" fill-rule="evenodd"/>
<path d="M244 266H247V267H248V270H247V271H244V270H243V267H244Z" fill="#F8766D" fill-opacity="0.3"/>
<path d="M244 266H247V267H248V270H247V271H244V270H243V267H244ZM244 267H247V270H244Z" fill="#F8766D" fill-opacity="0.3" fill-rule="evenodd"/>
<path d="M238 273H241V274H242V277H241V278H238V277H237V274H238Z" fill="#F8766D" fill-opacity="0.3"/>
<path d="M238 273H241V274H242V277H241V278H238V277H237V274H238ZM238 274H241V277H238Z" fill="#F8766D" fill-opacity="0.3" fill-rule="evenodd"/>
<path d="M56 311H59V312H60V315H59V316H56V315H55V312H56Z" fill="#F8766D" fill-opacity="0.3"/>
<path d="M56 311H59V312H60V315H59V316H56V315H55V312H56ZM56 312H59V315H56Z" fill="#F8766D" fill-opacity="0.3" fill-rule="evenodd"/>
<path d="M144 308H147V309H148V312H147V313H144V312H143V309H144Z" fill="#00BFC4" fill-opacity="0.3"/>
<path d="M144 308H147V309H148V312H147V313H144V312H143V309H144ZM144 309H147V312H144Z" fill="#00BFC4" fill-opacity="0.3" fill-rule="evenodd"/>
<path d="M156 324H159V325H160V328H159V329H156V328H155V325H156Z" fill="#00BFC4" fill-opacity="0.3"/>
<path d="M156 324H159V325H160V328H159V329H156V328H155V325H156ZM156 325H159V328H156Z" fill="#00BFC4" fill-opacity="0.3" fill-rule="evenodd"/>
<path d="M125 328H128V329H129V332H128V333H125V332H124V329H125Z" fill="#00BFC4" fill-opacity="0.3"/>
<path d="M125 328H128V329H129V332H128V333H125V332H124V329H125ZM125 329H128V332H125Z" fill="#00BFC4" fill-opacity="0.3" fill-rule="evenodd"/>
<path d="M166 315H169V316H170V319H169V320H166V319H165V316H166Z" fill="#00BFC4" fill-opacity="0.3"/>
<path d="M166 315H169V316H170V319H169V320H166V319H165V316H166ZM166 316H169V319H166Z" fill="#00BFC4" fill-opacity="0.3" fill-rule="evenodd"/>
<path d="M184 315H187V316H188V319H187V320H184V319H183V316H184Z" fill="#00BFC4" fill-opacity="0.3"/>
<path d="M184 315H187V316H188V319H187V320H184V319H183V316H184ZM184 316H187V319H184Z" fill="#00BFC4" fill-opacity="0.3" fill-rule="evenodd"/>
<path d="M163 323H166V324H167V327H166V328H163V327H162V324H163Z" fill="#00BFC4" fill-opacity="0.3"/>
<path d="M163 323H166V324H167V327H166V328H163V327H162V324H163ZM163 324H166V327H163Z" fill="#00BFC4" fill-opacity="0.3" fill-rule="evenodd"/>
<path d="M172 325H175V326H176V329H175V330H172V329H171V326H172Z" fill="#F8766D" fill-opacity="0.3"/>
<path d="M172 325H175V326H176V329H175V330H172V329H171V326H172ZM172 326H175V329H172Z" fill="#F8766D" fill-opacity="0.3" fill-rule="evenodd"/>
<path d="M175 324H178V325H179V328H178V329H175V328H174V325H175Z" fill="#F8766D" fill-opacity="0.3"/>
<path d="M175 324H178V325H179V328H178V329H175V328H174V325H175ZM175 325H178V328H175Z" fill="#F8766D" fill-opacity="0.3" fill-rule="evenodd"/>
<path d="M177 324H180V325H181V328H180V329H177V328H176V325H177Z" fill="#F8766D" fill-opacity="0.3"/>
<path d="M177 324H180V325H181V328H180V329H177V328H176V325H177ZM177 325H180V328H177Z" fill="#F8766D" fill-opacity="0.3" fill-rule="evenodd"/>
<path d="M209 299H212V300H213V303H212V304H209V303H208V300H209Z" fill="#00BFC4" fill-opacity="0.3"/>
<path d="M209 299H212V300H213V303H212V304H209V303H208V300H209ZM209 300H212V303H209Z" fill="#00BFC4" fill-opacity="0.3" fill-rule="evenodd"/>
<path d="M206 302H209V303H210V306H209V307H206V306H205V303H206Z" fill="#00BFC4" fill-opacity="0.3"/>
<path d="M206 302H209V303H210V306H209V307H206V306H205V303H206ZM206 303H209V306H206Z" fill="#00BFC4" fill-opacity="0.3" fill-rule="evenodd"/>
<path d="M204 313H207V314H208V317H207V318H204V317H203V314H204Z" fill="#00BFC4" fill-opacity="0.3"/>
<path d="M204 313H207V314H208V317H207V318H204V317H203V314H204ZM204 314H207V317H204Z" fill="#00BFC4" fill-opacity="0.3" fill-rule="evenodd"/>
<path d="M200 315H203V316H204V319H203V320H200V319H199V316H200Z" fill="#F8766D" fill-opacity="0.3"/>
<path d="M200 315H203V316H204V319H203V320H200V319H199V316H200ZM200 316H203V319H200Z" fill="#F8766D" fill-opacity="0.3" fill-rule="evenodd"/>
<path d="M206 316H209V317H210V320H209V321H206V320H205V317H206Z" fill="#F8766D" fill-opacity="0.3"/>
<path d="M206 316H209V317H210V320H209V321H206V320H205V317H206ZM206 317H209V320H206Z" fill="#F8766D" fill-opacity="0.3" fill-rule="evenodd"/>
<path d="M233 305H236V306H237V309H236V310H233V309H232V306H233Z" fill="#F8766D" fill-opacity="0.3"/>
<path d="M233 305H236V306H237V309H236V310H233V309H232V306H233ZM233 306H236V309H233Z" fill="#F8766D" fill-opacity="0.3" fill-rule="evenodd"/>
<path d="M219 312H222V313H223V316H222V317H219V316H218V313H219Z" fill="#F8766D" fill-opacity="0.3"/>
<path d="M219 312H222V313H223V316H222V317H219V316H218V313H219ZM219 313H222V316H219Z" fill="#F8766D" fill-opacity="0.3" fill-rule="evenodd"/>
<path d="M219 317H222V318H223V321H222V322H219V321H218V318H219Z" fill="#F8766D" fill-opacity="0.3"/>
<path d="M219 317H222V318H223V321H222V322H219V321H218V318H219ZM219 318H222V321H219Z" fill="#F8766D" fill-opacity="0.3" fill-rule="evenodd"/>
<path d="M210 320H213V321H214V324H213V325H210V324H209V321H210Z" fill="#F8766D" fill-opacity="0.3"/>
<path d="M210 320H213V321H214V324H213V325H210V324H209V321H210ZM210 321H213V324H210Z" fill="#F8766D" fill-opacity="0.3" fill-rule="evenodd"/>
<path d="M210 327H213V328H214V331H213V332H210V331H209V328H210Z" fill="#F8766D" fill-opacity="0.3"/>
<path d="M210 327H213V328H214V331H213V332H210V331H209V328H210ZM210 328H213V331H210Z" fill="#F8766D" fill-opacity="0.3" fill-rule="evenodd"/>
<path d="M141 343H144V344H145V347H144V348H141V347H140V344H141Z" fill="#00BFC4" fill-opacity="0.3"/>
<path d="M141 343H144V344H145V347H144V348H141V347H140V344H141ZM141 344H144V347H141Z" fill="#00BFC4" fill-opacity="0.3" fill-rule="evenodd"/>
<path d="M128 382H131V383H132V386H131V387H128V386H127V383H128Z" fill="#00BFC4" fill-opacity="0.3"/>
<path d="M128 382H131V383H132V386H131V387H128V386H127V383H128ZM128 383H131V386H128Z" fill="#00BFC4" fill-opacity="0.3" fill-rule="evenodd"/>
<path d="M196 335H199V336H200V339H199V340H196V339H195V336H196Z" fill="#00BFC4" fill-opacity="0.3"/>
<path d="M196 335H199V336H200V339H199V340H196V339H195V336H196ZM196 336H199V339H196Z" fill="#00BFC4" fill-opacity="0.3" fill-rule="evenodd"/>
<path d="M177 346H180V347H181V350H180V351H177V350H176V347H177Z" fill="#F8766D" fill-opacity="0.3"/>
<path d="M177 346H180V347H181V350H180V351H177V350H176V347H177ZM177 347H180V350H177Z" fill="#F8766D" fill-opacity="0.3" fill-rule="evenodd"/>
<path d="M168 351H171V352H172V355H171V356H168V355H167V352H168Z" fill="#F8766D" fill-opacity="0.3"/>
<path d="M168 351H171V352H172V355H171V356H168V355H167V352H168ZM168 352H171V355H168Z" fill="#F8766D" fill-opacity="0.3" fill-rule="evenodd"/>
<path d="M181 359H184V360H185V363H184V364H181V363H180V360H181Z" fill="#00BFC4" fill-opacity="0.3"/>
<path d="M181 359H184V360H185V363H184V364H181V363H180V360H181ZM181 360H184V363H181Z" fill="#00BFC4" fill-opacity="0.3" fill-rule="evenodd"/>
<path d="M177 361H180V362H181V365H180V366H177V365H176V362H177Z" fill="#F8766D" fill-opacity="0.3"/>
<path d="M177 361H180V362H181V365H180V366H177V365H176V362H177ZM177 362H180V365H177Z" fill="#F8766D" fill-opacity="0.3" fill-rule="evenodd"/>
<path d="M162 364H165V365H166V368H165V369H162V368H161V365H162Z" fill="#00BFC4" fill-opacity="0.3"/>
<path d="M162 364H165V365H166V368H165V369H162V368H161V365H162ZM162 365H165V368H162Z" fill="#00BFC4" fill-opacity="0.3" fill-rule="evenodd"/>
<path d="M188 363H191V364H192V367H191V368H188V367H187V364H188Z" fill="#F8766D" fill-opacity="0.3"/>
<path d="M188 363H191V364H192V367H191V368H188V367H187V364H188ZM188 364H191V367H188Z" fill="#F8766D" fill-opacity="0.3" fill-rule="evenodd"/>
<path d="M187 365H190V366H191V369H190V370H187V369H186V366H187Z" fill="#00BFC4" fill-opacity="0.3"/>
<path d="M187 365H190V366H191V369H190V370H187V369H186V366H187ZM187 366H190V369H187Z" fill="#00BFC4" fill-opacity="0.3" fill-rule="evenodd"/>
<path d="M205 346H208V347H209V350H208V351H205V350H204V347H205Z" fill="#F8766D" fill-opacity="0.3"/>
<path d="M205 346H208V347H209V350H208V351H205V350H204V347H205ZM205 347H208V350H205Z" fill="#F8766D" fill-opacity="0.3" fill-rule="evenodd"/>
<path d="M205 356H208V357H209V360H208V361H205V360H204V357H205Z" fill="#F8766D" fill-opacity="0.3"/>
<path d="M205 356H208V357H209V360H208V361H205V360H204V357H205ZM205 357H208V360H205Z" fill="#F8766D" fill-opacity="0.3" fill-rule="evenodd"/>
<path d="M208 360H211V361H212V364H211V365H208V364H207V361H208Z" fill="#F8766D" fill-opacity="0.3"/>
<path d="M208 360H211V361H212V364H211V365H208V364H207V361H208ZM208 361H211V364H208Z" fill="#F8766D" fill-opacity="0.3" fill-rule="evenodd"/>
<path d="M205 365H208V366H209V369H208V370H205V369H204V366H205Z" fill="#F8766D" fill-opacity="0.3"/>
<path d="M205 365H208V366H209V369H208V370H205V369H204V366H205ZM205 366H208V369H205Z" fill="#F8766D" fill-opacity="0.3" fill-rule="evenodd"/>
<path d="M219 339H222V340H223V343H222V344H219V343H218V340H219Z" fill="#F8766D" fill-opacity="0.3"/>
<path d="M219 339H222V340H223V343H222V344H219V343H218V340H219ZM219 340H222V343H219Z" fill="#F8766D" fill-opacity="0.3" fill-rule="evenodd"/>
<path d="M239 352H242V353H243V356H242V357H239V356H238V353H239Z" fill="#F8766D" fill-opacity="0.3"/>
<path d="M239 352H242V353H243V356H242V357H239V356H238V353H239ZM239 353H242V356H239Z" fill="#F8766D" fill-opacity="0.3" fill-rule="evenodd"/>
<path d="M218 361H221V362H222V365H221V366H218V365H217V362H218Z" fill="#F8766D" fill-opacity="0.3"/>
<path d="M218 361H221V362H222V365H221V366H218V365H217V362H218ZM218 362H221V365H218Z" fill="#F8766D" fill-opacity="0.3" fill-rule="evenodd"/>
<path d="M189 377H192V378H193V381H192V382H189V381H188V378H189Z" fill="#00BFC4" fill-opacity="0.3"/>
<path d="M189 377H192V378H193V381H192V382H189V381H188V378H189ZM189 378H192V381H189Z" fill="#00BFC4" fill-opacity="0.3" fill-rule="evenodd"/>
<path d="M181 385H184V386H185V389H184V390H181V389H180V386H181Z" fill="#00BFC4" fill-opacity="0.3"/>
<path d="M181 385H184V386H185V389H184V390H181V389H180V386H181ZM181 386H184V389H181Z" fill="#00BFC4" fill-opacity="0.3" fill-rule="evenodd"/>
<path d="M166 389H169V390H170V393H169V394H166V393H165V390H166Z" fill="#F8766D" fill-opacity="0.3"/>
<path d="M166 389H169V390H170V393H169V394H166V393H165V390H166ZM166 390H169V393H166Z" fill="#F8766D" fill-opacity="0.3" fill-rule="evenodd"/>
<path d="M201 382H204V383H205V386H204V387H201V386H200V383H201Z" fill="#F8766D" fill-opacity="0.3"/>
<path d="M201 382H204V383H205V386H204V387H201V386H200V383H201ZM201 383H204V386H201Z" fill="#F8766D" fill-opacity="0.3" fill-rule="evenodd"/>
<path d="M243 385H246V386H247V389H246V390H243V389H242V386H243Z" fill="#F8766D" fill-opacity="0.3"/>
<path d="M243 385H246V386H247V389H246V390H243V389H242V386H243ZM243 386H246V389H243Z" fill="#F8766D" fill-opacity="0.3" fill-rule="evenodd"/>
<path d="M223 414H226V415H227V418H226V419H223V418H222V415H223Z" fill="#F8766D" fill-opacity="0.3"/>
<path d="M223 414H226V415H227V418H226V419H223V418H222V415H223ZM223 415H226V418H223Z" fill="#F8766D" fill-opacity="0.3" fill-rule="evenodd"/>
</g>
<polygon points="54.89,217.16 56.86,213.35 58.82,209.61 60.79,205.95 62.75,202.39 64.72,198.94 66.68,195.61 68.65,192.41 70.61,189.37 72.58,186.49 74.54,183.79 76.51,181.27 78.47,178.95 80.44,176.83 82.40,174.93 84.37,173.25 86.33,171.80 88.29,170.58 90.26,169.61 92.22,168.88 94.19,168.40 96.15,168.17 98.12,168.19 100.08,168.46 102.05,168.98 104.01,169.75 105.98,170.76 107.94,172.01 109.91,173.50 111.87,175.22 113.84,177.15 115.80,179.30 117.77,181.66 119.73,184.21 121.70,186.94 123.66,189.85 125.63,192.92 127.59,196.13 129.55,199.48 131.52,202.95 133.48,206.54 135.45,210.21 137.41,213.96 139.38,217.78 141.34,221.65 143.31,225.55 145.27,229.47 147.24,233.40 149.20,237.31 151.17,241.20 153.13,245.06 155.10,248.85 157.06,252.59 159.03,256.24 160.99,259.80 162.96,263.25 164.92,266.58 166.89,269.79 168.85,272.85 170.81,275.76 172.78,278.51 174.74,281.09 176.71,283.49 178.67,285.70 180.64,287.72 182.60,289.54 184.57,291.14 186.53,292.54 188.50,293.72 190.46,294.68 192.43,295.41 194.39,295.92 196.36,296.20 198.32,296.25 200.29,296.07 202.25,295.67 204.22,295.03 206.18,294.17 208.15,293.09 210.11,291.79 212.07,290.28 214.04,288.55 216.00,286.63 217.97,284.50 219.93,282.18 221.90,279.68 223.86,277.01 225.83,274.17 227.79,271.17 229.76,268.03 231.72,264.75 233.69,261.35 235.65,257.84 237.62,254.23 239.58,250.53 241.55,246.76 243.51,242.93 245.48,239.05 247.44,235.15 249.41,231.22 251.37,227.30 251.37,257.33 249.41,261.23 247.44,265.15 245.48,269.08 243.51,272.99 241.55,276.89 239.58,280.74 237.62,284.54 235.65,288.27 233.69,291.92 231.72,295.47 229.76,298.90 227.79,302.21 225.83,305.39 223.86,308.41 221.90,311.26 219.93,313.94 217.97,316.43 216.00,318.73 214.04,320.81 212.07,322.68 210.11,324.33 208.15,325.75 206.18,326.93 204.22,327.87 202.25,328.56 200.29,329.01 198.32,329.20 196.36,329.14 194.39,328.84 192.43,328.28 190.46,327.48 188.50,326.43 186.53,325.14 184.57,323.62 182.60,321.87 180.64,319.90 178.67,317.72 176.71,315.34 174.74,312.76 172.78,310.00 170.81,307.07 168.85,303.98 166.89,300.75 164.92,297.38 162.96,293.89 160.99,290.30 159.03,286.61 157.06,282.85 155.10,279.02 153.13,275.15 151.17,271.25 149.20,267.32 147.24,263.40 145.27,259.49 143.31,255.60 141.34,251.75 139.38,247.96 137.41,244.24 135.45,240.60 133.48,237.06 131.52,233.62 129.55,230.31 127.59,227.12 125.63,224.08 123.66,221.19 121.70,218.47 119.73,215.91 117.77,213.54 115.80,211.35 113.84,209.37 111.87,207.58 109.91,206.00 107.94,204.63 105.98,203.48 104.01,202.56 102.05,201.86 100.08,201.38 98.12,201.13 96.15,201.11 94.19,201.32 92.22,201.76 90.26,202.43 88.29,203.32 86.33,204.43 84.37,205.76 82.40,207.31 80.44,209.06 78.47,211.02 76.51,213.17 74.54,215.52 72.58,218.04 70.61,220.74 68.65,223.60 66.68,226.62 64.72,229.78 62.75,233.08 60.79,236.50 58.82,240.02 56.86,243.65 54.89,247.36" fill="#F8766D" fill-opacity="0.5" shape-rendering="crispEdges"/>
<polyline points="54.89,217.16 56.86,213.35 58.82,209.61 60.79,205.95 62.75,202.39 64.72,198.94 66.68,195.61 68.65,192.41 70.61,189.37 72.58,186.49 74.54,183.79 76.51,181.27 78.47,178.95 80.44,176.83 82.40,174.93 84.37,173.25 86.33,171.80 88.29,170.58 90.26,169.61 92.22,168.88 94.19,168.40 96.15,168.17 98.12,168.19 100.08,168.46 102.05,168.98 104.01,169.75 105.98,170.76 107.94,172.01 109.91,173.50 111.87,175.22 113.84,177.15 115.80,179.30 117.77,181.66 119.73,184.21 121.70,186.94 123.66,189.85 125.63,192.92 127.59,196.13 129.55,199.48 131.52,202.95 133.48,206.54 135.45,210.21 137.41,213.96 139.38,217.78 141.34,221.65 143.31,225.55 145.27,229.47 147.24,233.40 149.20,237.31 151.17,241.20 153.13,245.06 155.10,248.85 157.06,252.59 159.03,256.24 160.99,259.80 162.96,263.25 164.92,266.58 166.89,269.79 168.85,272.85 170.81,275.76 172.78,278.51 174.74,281.09 176.71,283.49 178.67,285.70 180.64,287.72 182.60,289.54 184.57,291.14 186.53,292.54 188.50,293.72 190.46,294.68 192.43,295.41 194.39,295.92 196.36,296.20 198.32,296.25 200.29,296.07 202.25,295.67 204.22,295.03 206.18,294.17 208.15,293.09 210.11,291.79 212.07,290.28 214.04,288.55 216.00,286.63 217.97,284.50 219.93,282.18 221.90,279.68 223.86,277.01 225.83,274.17 227.79,271.17 229.76,268.03 231.72,264.75 233.69,261.35 235.65,257.84 237.62,254.23 239.58,250.53 241.55,246.76 243.51,242.93 245.48,239.05 247.44,235.15 249.41,231.22 251.37,227.30" fill="none" stroke="#F8766D" stroke-width="1" shape-rendering="crispEdges"/>
<polyline points="54.89,247.36 56.86,243.65 58.82,240.02 60.79,236.50 62.75,233.08 64.72,229.78 66.68,226.62 68.65,223.60 70.61,220.74 72.58,218.04 74.54,215.52 76.51,213.17 78.47,211.02 80.44,209.06 82.40,207.31 84.37,205.76 86.33,204.43 88.29,203.32 90.26,202.43 92.22,201.76 94.19,201.32 96.15,201.11 98.12,201.13 100.08,201.38 102.05,201.86 104.01,202.56 105.98,203.48 107.94,204.63 109.91,206.00 111.87,207.58 113.84,209.37 115.80,211.35 117.77,213.54 119.73,215.91 121.70,218.47 123.66,221.19 125.63,224.08 127.59,227.12 129.55,230.31 131.52,233.62 133.48,237.06 135.45,240.60 137.41,244.24 139.38,247.96 141.34,251.75 143.31,255.60 145.27,259.49 147.24,263.40 149.20,267.32 151.17,271.25 153.13,275.15 155.10,279.02 157.06,282.85 159.03,286.61 160.99,290.30 162.96,293.89 164.92,297.38 166.89,300.75 168.85,303.98 170.81,307.07 172.78,310.00 174.74,312.76 176.71,315.34 178.67,317.72 180.64,319.90 182.60,321.87 184.57,323.62 186.53,325.14 188.50,326.43 190.46,327.48 192.43,328.28 194.39,328.84 196.36,329.14 198.32,329.20 200.29,329.01 202.25,328.56 204.22,327.87 206.18,326.93 208.15,325.75 210.11,324.33 212.07,322.68 214.04,320.81 216.00,318.73 217.97,316.43 219.93,313.94 221.90,311.26 223.86,308.41 225.83,305.39 227.79,302.21 229.76,298.90 231.72,295.47 233.69,291.92 235.65,288.27 237.62,284.54 239.58,280.74 241.55,276.89 243.51,272.99 245.48,269.08 247.44,265.15 249.41,261.23 251.37,257.33" fill="none" stroke="#F8766D" stroke-width="1" shape-rendering="crispEdges"/>
<polyline points="54.89,232.26 56.86,228.50 58.82,224.82 60.79,221.22 62.75,217.73 64.72,214.36 66.68,211.11 68.65,208.01 70.61,205.06 72.58,202.27 74.54,199.65 76.51,197.22 78.47,194.98 80.44,192.94 82.40,191.12 84.37,189.50 86.33,188.11 88.29,186.95 90.26,186.02 92.22,185.32 94.19,184.86 96.15,184.64 98.12,184.66 100.08,184.92 102.05,185.42 104.01,186.15 105.98,187.12 107.94,188.32 109.91,189.75 111.87,191.40 113.84,193.26 115.80,195.33 117.77,197.60 119.73,200.06 121.70,202.71 123.66,205.52 125.63,208.50 127.59,211.63 129.55,214.90 131.52,218.29 133.48,221.80 135.45,225.41 137.41,229.10 139.38,232.87 141.34,236.70 143.31,240.57 145.27,244.48 147.24,248.40 149.20,252.32 151.17,256.22 153.13,260.10 155.10,263.94 157.06,267.72 159.03,271.43 160.99,275.05 162.96,278.57 164.92,281.98 166.89,285.27 168.85,288.42 170.81,291.42 172.78,294.26 174.74,296.93 176.71,299.41 178.67,301.71 180.64,303.81 182.60,305.70 184.57,307.38 186.53,308.84 188.50,310.07 190.46,311.08 192.43,311.85 194.39,312.38 196.36,312.67 198.32,312.73 200.29,312.54 202.25,312.11 204.22,311.45 206.18,310.55 208.15,309.42 210.11,308.06 212.07,306.48 214.04,304.68 216.00,302.68 217.97,300.46 219.93,298.06 221.90,295.47 223.86,292.71 225.83,289.78 227.79,286.69 229.76,283.47 231.72,280.11 233.69,276.63 235.65,273.05 237.62,269.38 239.58,265.64 241.55,261.82 243.51,257.96 245.48,254.07 247.44,250.15 249.41,246.23 251.37,242.31" fill="none" stroke="#F8766D" stroke-width="1" shape-rendering="crispEdges"/>
<polygon points="54.89,134.56 56.86,132.03 58.82,129.78 60.79,127.82 62.75,126.17 64.72,124.82 66.68,123.79 68.65,123.08 70.61,122.69 72.58,122.62 74.54,122.87 76.51,123.45 78.47,124.34 80.44,125.55 82.40,127.06 84.37,128.88 86.33,131.00 88.29,133.40 90.26,136.07 92.22,139.02 94.19,142.21 96.15,145.65 98.12,149.32 100.08,153.19 102.05,157.27 104.01,161.52 105.98,165.94 107.94,170.50 109.91,175.20 111.87,180.00 113.84,184.90 115.80,189.87 117.77,194.90 119.73,199.96 121.70,205.04 123.66,210.12 125.63,215.18 127.59,220.20 129.55,225.16 131.52,230.05 133.48,234.84 135.45,239.52 137.41,244.08 139.38,248.49 141.34,252.75 143.31,256.83 145.27,260.72 147.24,264.42 149.20,267.89 151.17,271.14 153.13,274.15 155.10,276.92 157.06,279.42 159.03,281.66 160.99,283.62 162.96,285.30 164.92,286.70 166.89,287.80 168.85,288.60 170.81,289.11 172.78,289.31 174.74,289.21 176.71,288.81 178.67,288.11 180.64,287.11 182.60,285.81 184.57,284.22 186.53,282.34 188.50,280.18 190.46,277.75 192.43,275.06 194.39,272.10 196.36,268.91 198.32,265.47 200.29,261.82 202.25,257.95 204.22,253.89 206.18,249.64 208.15,245.23 210.11,240.67 212.07,235.98 214.04,231.16 216.00,226.25 217.97,221.26 219.93,216.20 221.90,211.10 223.86,205.97 225.83,200.84 227.79,195.73 229.76,190.65 231.72,185.62 233.69,180.67 235.65,175.81 237.62,171.06 239.58,166.44 241.55,161.97 243.51,157.67 245.48,153.55 247.44,149.63 249.41,145.92 251.37,142.45 251.37,186.65 249.41,189.88 247.44,193.34 245.48,197.00 243.51,200.87 241.55,204.92 239.58,209.14 237.62,213.52 235.65,218.03 233.69,222.67 231.72,227.42 229.76,232.26 227.79,237.18 225.83,242.15 223.86,247.15 221.90,252.18 219.93,257.20 217.97,262.21 216.00,267.18 214.04,272.09 212.07,276.93 210.11,281.67 208.15,286.31 206.18,290.81 204.22,295.17 202.25,299.37 200.29,303.38 198.32,307.20 196.36,310.81 194.39,314.19 192.43,317.33 190.46,320.22 188.50,322.84 186.53,325.19 184.57,327.26 182.60,329.04 180.64,330.51 178.67,331.68 176.71,332.53 174.74,333.07 172.78,333.29 170.81,333.20 168.85,332.78 166.89,332.05 164.92,331.00 162.96,329.64 160.99,327.98 159.03,326.02 157.06,323.77 155.10,321.24 153.13,318.43 151.17,315.37 149.20,312.05 147.24,308.50 145.27,304.74 143.31,300.76 141.34,296.60 139.38,292.26 137.41,287.77 135.45,283.14 133.48,278.39 131.52,273.54 129.55,268.60 127.59,263.61 125.63,258.57 123.66,253.50 121.70,248.43 119.73,243.37 117.77,238.35 115.80,233.38 113.84,228.48 111.87,223.67 109.91,218.97 107.94,214.39 105.98,209.95 104.01,205.66 102.05,201.55 100.08,197.63 98.12,193.90 96.15,190.39 94.19,187.11 92.22,184.06 90.26,181.26 88.29,178.72 86.33,176.44 84.37,174.44 82.40,172.72 80.44,171.28 78.47,170.13 76.51,169.28 74.54,168.73 72.58,168.47 70.61,168.51 68.65,168.85 66.68,169.49 64.72,170.42 62.75,171.65 60.79,173.16 58.82,174.95 56.86,177.02 54.89,179.36" fill="#00BFC4" fill-opacity="0.5" shape-rendering="crispEdges"/>
<polyline points="54.89,134.56 56.86,132.03 58.82,129.78 60.79,127.82 62.75,126.17 64.72,124.82 66.68,123.79 68.65,123.08 70.61,122.69 72.58,122.62 74.54,122.87 76.51,123.45 78.47,124.34 80.44,125.55 82.40,127.06 84.37,128.88 86.33,131.00 88.29,133.40 90.26,136.07 92.22,139.02 94.19,142.21 96.15,145.65 98.12,149.32 100.08,153.19 102.05,157.27 104.01,161.52 105.98,165.94 107.94,170.50 109.91,175.20 111.87,180.00 113.84,184.90 115.80,189.87 117.77,194.90 119.73,199.96 121.70,205.04 123.66,210.12 125.63,215.18 127.59,220.20 129.55,225.16 131.52,230.05 133.48,234.84 135.45,239.52 137.41,244.08 139.38,248.49 141.34,252.75 143.31,256.83 145.27,260.72 147.24,264.42 149.20,267.89 151.17,271.14 153.13,274.15 155.10,276.92 157.06,279.42 159.03,281.66 160.99,283.62 162.96,285.30 164.92,286.70 166.89,287.80 168.85,288.60 170.81,289.11 172.78,289.31 174.74,289.21 176.71,288.81 178.67,288.11 180.64,287.11 182.60,285.81 184.57,284.22 186.53,282.34 188.50,280.18 190.46,277.75 192.43,275.06 194.39,272.10 196.36,268.91 198.32,265.47 200.29,261.82 202.25,257.95 204.22,253.89 206.18,249.64 208.15,245.23 210.11,240.67 212.07,235.98 214.04,231.16 216.00,226.25 217.97,221.26 219.93,216.20 221.90,211.10 223.86,205.97 225.83,200.84 227.79,195.73 229.76,190.65 231.72,185.62 233.69,180.67 235.65,175.81 237.62,171.06 239.58,166.44 241.55,161.97 243.51,157.67 245.48,153.55 247.44,149.63 249.41,145.92 251.37,142.45" fill="none" stroke="#00BFC4" stroke-width="1" shape-rendering="crispEdges"/>
<polyline points="54.89,179.36 56.86,177.02 58.82,174.95 60.79,173.16 62.75,171.65 64.72,170.42 66.68,169.49 68.65,168.85 70.61,168.51 72.58,168.47 74.54,168.73 76.51,169.28 78.47,170.13 80.44,171.28 82.40,172.72 84.37,174.44 86.33,176.44 88.29,178.72 90.26,181.26 92.22,184.06 94.19,187.11 96.15,190.39 98.12,193.90 100.08,197.63 102.05,201.55 104.01,205.66 105.98,209.95 107.94,214.39 109.91,218.97 111.87,223.67 113.84,228.48 115.80,233.38 117.77,238.35 119.73,243.37 121.70,248.43 123.66,253.50 125.63,258.57 127.59,263.61 129.55,268.60 131.52,273.54 133.48,278.39 135.45,283.14 137.41,287.77 139.38,292.26 141.34,296.60 143.31,300.76 145.27,304.74 147.24,308.50 149.20,312.05 151.17,315.37 153.13,318.43 155.10,321.24 157.06,323.77 159.03,326.02 160.99,327.98 162.96,329.64 164.92,331.00 166.89,332.05 168.85,332.78 170.81,333.20 172.78,333.29 174.74,333.07 176.71,332.53 178.67,331.68 180.64,330.51 182.60,329.04 184.57,327.26 186.53,325.19 188.50,322.84 190.46,320.22 192.43,317.33 194.39,314.19 196.36,310.81 198.32,307.20 200.29,303.38 202.25,299.37 204.22,295.17 206.18,290.81 208.15,286.31 210.11,281.67 212.07,276.93 214.04,272.09 216.00,267.18 217.97,262.21 219.93,257.20 221.90,252.18 223.86,247.15 225.83,242.15 227.79,237.18 229.76,232.26 231.72,227.42 233.69,222.67 235.65,218.03 237.62,213.52 239.58,209.14 241.55,204.92 243.51,200.87 245.48,197.00 247.44,193.34 249.41,189.88 251.37,186.65" fill="none" stroke="#00BFC4" stroke-width="1" shape-rendering="crispEdges"/>
<polyline points="54.89,156.96 56.86,154.52 58.82,152.36 60.79,150.49 62.75,148.91 64.72,147.62 66.68,146.64 68.65,145.97 70.61,145.60 72.58,145.54 74.54,145.80 76.51,146.36 78.47,147.24 80.44,148.41 82.40,149.89 84.37,151.66 86.33,153.72 88.29,156.06 90.26,158.67 92.22,161.54 94.19,164.66 96.15,168.02 98.12,171.61 100.08,175.41 102.05,179.41 104.01,183.59 105.98,187.94 107.94,192.44 109.91,197.08 111.87,201.84 113.84,206.69 115.80,211.63 117.77,216.62 119.73,221.67 121.70,226.74 123.66,231.81 125.63,236.87 127.59,241.90 129.55,246.88 131.52,251.79 133.48,256.62 135.45,261.33 137.41,265.93 139.38,270.38 141.34,274.67 143.31,278.80 145.27,282.73 147.24,286.46 149.20,289.97 151.17,293.25 153.13,296.29 155.10,299.08 157.06,301.60 159.03,303.84 160.99,305.80 162.96,307.47 164.92,308.85 166.89,309.92 168.85,310.69 170.81,311.15 172.78,311.30 174.74,311.14 176.71,310.67 178.67,309.89 180.64,308.81 182.60,307.42 184.57,305.74 186.53,303.77 188.50,301.51 190.46,298.99 192.43,296.19 194.39,293.15 196.36,289.86 198.32,286.34 200.29,282.60 202.25,278.66 204.22,274.53 206.18,270.23 208.15,265.77 210.11,261.17 212.07,256.45 214.04,251.63 216.00,246.71 217.97,241.73 219.93,236.70 221.90,231.64 223.86,226.56 225.83,221.49 227.79,216.45 229.76,211.46 231.72,206.52 233.69,201.67 235.65,196.92 237.62,192.29 239.58,187.79 241.55,183.44 243.51,179.27 245.48,175.28 247.44,171.48 249.41,167.90 251.37,164.55" fill="none" stroke="#00BFC4" stroke-width="1" shape-rendering="crispEdges"/>
<rect x="42" y="40" width="4" height="1" fill="#333"/>
<rect x="42" y="142" width="4" height="1" fill="#333"/>
<rect x="42" y="245" width="4" height="1" fill="#333"/>
<rect x="42" y="347" width="4" height="1" fill="#333"/>
<rect x="51" y="435" width="1" height="4" fill="#333"/>
<rect x="93" y="435" width="1" height="4" fill="#333"/>
<rect x="135" y="435" width="1" height="4" fill="#333"/>
<rect x="177" y="435" width="1" height="4" fill="#333"/>
<rect x="219" y="435" width="1" height="4" fill="#333"/>
<text transform="translate(38.10,45.50) scale(1.0,1.1)" font-size="11.73" fill="#4D4D4D" text-anchor="end">50</text>
<text transform="translate(38.10,147.50) scale(1.0,1.1)" font-size="11.73" fill="#4D4D4D" text-anchor="end">40</text>
<text transform="translate(38.10,250.50) scale(1.0,1.1)" font-size="11.73" fill="#4D4D4D" text-anchor="end">30</text>
<text transform="translate(38.10,352.50) scale(1.0,1.1)" font-size="11.73" fill="#4D4D4D" text-anchor="end">20</text>
<text transform="translate(50.65,453.00) scale(1.0,1.1)" font-size="11.73" fill="#4D4D4D" text-anchor="middle">0.0</text>
<text transform="translate(92.65,453.00) scale(1.0,1.1)" font-size="11.73" fill="#4D4D4D" text-anchor="middle">2.5</text>
<text transform="translate(134.65,453.00) scale(1.0,1.1)" font-size="11.73" fill="#4D4D4D" text-anchor="middle">5.0</text>
<text transform="translate(176.65,453.00) scale(1.0,1.1)" font-size="11.73" fill="#4D4D4D" text-anchor="middle">7.5</text>
<text transform="translate(218.65,453.00) scale(1.0,1.1)" font-size="11.73" fill="#4D4D4D" text-anchor="middle">10.0</text>
<text x="152.8" y="469.8" font-size="14.67" fill="#000" text-anchor="middle">time</text>
<text transform="translate(19.6,221.5) rotate(-90)" font-size="14.67" fill="#000" text-anchor="middle">vit_d</text>
<rect x="279" y="78" width="319" height="319" fill="#EBEBEB"/>
<line x1="439.0" y1="238.0" x2="540.82" y2="136.18" stroke="#555" stroke-width="0.7" stroke-dasharray="9.9 4.3" stroke-dashoffset="12.6"/>
<line x1="439.0" y1="238.0" x2="337.18" y2="136.18" stroke="#555" stroke-width="0.7" stroke-dasharray="9.9 4.3" stroke-dashoffset="12.6"/>
<line x1="439.0" y1="238.0" x2="337.18" y2="339.82" stroke="#555" stroke-width="0.7" stroke-dasharray="9.9 4.3" stroke-dashoffset="12.6"/>
<line x1="439.0" y1="238.0" x2="540.82" y2="339.82" stroke="#555" stroke-width="0.7" stroke-dasharray="9.9 4.3" stroke-dashoffset="12.6"/>
<line x1="439.0" y1="238.5" x2="583.0" y2="238.5" stroke="#333" stroke-width="0.9" stroke-dasharray="5.5 2.6 1 1.9" stroke-dashoffset="8.7"/>
<line x1="439.0" y1="238.0" x2="295.0" y2="238.0" stroke="#333" stroke-width="0.9" stroke-dasharray="5.5 1.5 1 3.0" stroke-dashoffset="7.9"/>
<line x1="439.5" y1="238.0" x2="439.5" y2="94.0" stroke="#333" stroke-width="0.9" stroke-dasharray="5.5 1.3 1 3.2" stroke-dashoffset="7.8"/>
<line x1="438.5" y1="238.0" x2="438.5" y2="382.0" stroke="#333" stroke-width="0.9" stroke-dasharray="5.5 3.2 1 1.3" stroke-dashoffset="8.75"/>
<circle cx="439.0" cy="238.0" r="28.8" fill="none" stroke="#000" stroke-width="1.25" stroke-dasharray="1.9 1.8"/>
<circle cx="439.0" cy="238.0" r="57.6" fill="none" stroke="#000" stroke-width="1.25" stroke-dasharray="1.9 1.8"/>
<circle cx="439.0" cy="238.0" r="86.4" fill="none" stroke="#000" stroke-width="1.25" stroke-dasharray="1.9 1.8"/>
<circle cx="439.0" cy="238.0" r="115.2" fill="none" stroke="#000" stroke-width="1.25" stroke-dasharray="1.9 1.8"/>
<circle cx="439.0" cy="238.0" r="144.0" fill="none" stroke="#000" stroke-width="1.25" stroke-dasharray="1.9 1.8"/>
<text transform="translate(438.00,243.60) scale(0.967,1.1)" font-size="13.3" fill="#000" text-anchor="middle">0</text>
<text transform="translate(464.70,232.81) scale(0.967,1.1)" font-size="13.3" fill="#000" text-anchor="middle">2</text>
<text transform="translate(491.41,222.02) scale(0.967,1.1)" font-size="13.3" fill="#000" text-anchor="middle">4</text>
<text transform="translate(518.11,211.23) scale(0.967,1.1)" font-size="13.3" fill="#000" text-anchor="middle">6</text>
<text transform="translate(544.81,200.45) scale(0.967,1.1)" font-size="13.3" fill="#000" text-anchor="middle">8</text>
<text transform="translate(571.51,189.66) scale(0.967,1.1)" font-size="13.3" fill="#000" text-anchor="middle">10</text>
<text transform="translate(425.10,91.90) scale(0.967,1.1)" font-size="13.3" fill="#000" text-anchor="start">0.5π</text>
<text transform="translate(424.40,395.80) scale(0.967,1.1)" font-size="13.3" fill="#000" text-anchor="start">1.5π</text>
<text transform="translate(278.80,243.80) scale(0.967,1.1)" font-size="13.3" fill="#000" text-anchor="start">1π</text>
<text transform="translate(582.30,244.20) scale(0.967,1.1)" font-size="13.3" fill="#000" text-anchor="start">0π</text>
<text transform="translate(316.70,137.20) scale(0.967,1.1)" font-size="13.3" fill="#000" text-anchor="start">0.8π</text>
<text transform="translate(532.30,137.20) scale(0.967,1.1)" font-size="13.3" fill="#000" text-anchor="start">0.2π</text>
<text transform="translate(317.60,351.90) scale(0.967,1.1)" font-size="13.3" fill="#000" text-anchor="start">1.3π</text>
<text transform="translate(532.70,350.90) scale(0.967,1.1)" font-size="13.3" fill="#000" text-anchor="start">1.8π</text>
<ellipse cx="452.45" cy="148.25" rx="18" ry="18.9" fill="#FF0000" fill-opacity="0.3" stroke="#FF0000" stroke-width="1.2" shape-rendering="crispEdges"/>
<circle cx="452.5" cy="148.4" r="2.6" fill="#000"/>
<circle cx="533.3" cy="168.3" r="26.1" fill="#00FFFF" fill-opacity="0.3" stroke="#00FFFF" stroke-width="1.2" shape-rendering="crispEdges"/>
<circle cx="533.25" cy="168.25" r="2.6" fill="#000"/>
<text transform="translate(619.30,218.00) scale(1.0,1.05)" font-size="14.67" fill="#000" text-anchor="start">X</text>
<rect x="620.5" y="227.3" width="22" height="21" fill="#F1A5A5" stroke="#000" stroke-width="1.1"/>
<rect x="620.5" y="250.7" width="22" height="21" fill="#A5F1F1" stroke="#000" stroke-width="1.1"/>
<text transform="translate(649.80,243.00) scale(1.0,1.1)" font-size="11.73" fill="#000" text-anchor="start">0</text>
<text transform="translate(649.80,266.00) scale(1.0,1.1)" font-size="11.73" fill="#000" text-anchor="start">1</text>
</svg></body></html>
